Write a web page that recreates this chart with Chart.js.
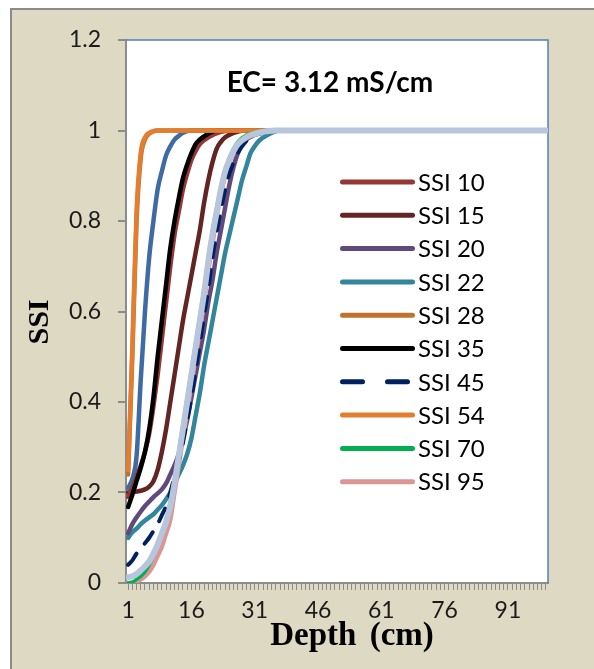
<!DOCTYPE html>
<html><head><meta charset="utf-8">
<script src="https://cdn.jsdelivr.net/npm/chart.js@4.4.0/dist/chart.umd.min.js"></script>
<style>
html,body{margin:0;padding:0;background:#fff;width:594px;height:669px;overflow:hidden}
#frame{position:absolute;left:10px;top:8px;width:600px;height:680px;background:#ddd9c3;border-left:2px solid #8a8a8a;border-top:2px solid #8a8a8a;}
#c{position:absolute;left:0;top:0}
</style></head><body>
<div id="frame"></div>
<canvas id="c" width="594" height="669"></canvas>
<script>
const chartTitle = 'EC= 3.12 mS/cm';
const xAxisTitle = 'Depth (cm)';
const yAxisTitle = 'SSI';
const xTickLabels = [1, 16, 31, 46, 61, 76, 91];
const yTicks = [0, 0.2, 0.4, 0.6, 0.8, 1, 1.2];
const legendLabels = ['SSI 10','SSI 15','SSI 20','SSI 22','SSI 28','SSI 35','SSI 45','SSI 54','SSI 70','SSI 95'];

// [depth, SSI] pairs
const ssi10 = [[1,.19],[2,.21],[3,.235],[4,.26],[5,.29],[6,.33],[7,.39],[8,.46],[9,.54],[10,.62],[11,.70],[12,.77],[13,.82],[14,.87],[15,.905],[16,.935],[17,.955],[18,.97],[20,.985],[23,.997],[26,1],[100,1]];
const ssi15 = [[1,.2],[3,.202],[5,.207],[6,.213],[7,.225],[8,.25],[9,.29],[10,.34],[11,.40],[12,.46],[13,.52],[14,.58],[15,.63],[16,.68],[17,.73],[18,.78],[19,.84],[20,.89],[21,.93],[22,.96],[23,.975],[24,.985],[26,.995],[29,1],[100,1]];
const ssi20 = [[1,.11],[2,.13],[3,.145],[4,.158],[5,.17],[6,.18],[7,.19],[8,.198],[9,.207],[10,.22],[11,.24],[12,.26],[13,.285],[14,.32],[15,.36],[16,.41],[17,.46],[18,.51],[19,.56],[20,.62],[21,.67],[22,.73],[23,.78],[24,.83],[25,.88],[26,.92],[27,.95],[28,.97],[29,.98],[31,.99],[34,1],[100,1]];
const ssi22 = [[1,.10],[2,.112],[3,.12],[4,.13],[5,.138],[6,.145],[7,.152],[8,.162],[9,.172],[10,.185],[11,.2],[12,.22],[13,.24],[14,.26],[15,.285],[16,.32],[17,.37],[18,.42],[19,.48],[20,.53],[21,.58],[22,.63],[23,.68],[24,.73],[25,.77],[26,.81],[27,.85],[28,.89],[29,.92],[30,.95],[31,.965],[32,.977],[34,.99],[37,1],[100,1]];
const ssi28 = [[1,.24],[2,.5],[3,.8],[4,.94],[5,.98],[6,.993],[8,1],[100,1]];
const ssi35 = [[1,.168],[2,.195],[3,.225],[4,.255],[5,.29],[6,.34],[7,.41],[8,.50],[9,.58],[10,.66],[11,.74],[12,.80],[13,.85],[14,.895],[15,.925],[16,.95],[17,.97],[18,.98],[20,.993],[22,1],[100,1]];
const ssi45 = [[1,.04],[2,.05],[3,.065],[4,.075],[5,.088],[6,.10],[7,.115],[8,.13],[9,.15],[10,.17],[11,.2],[12,.235],[13,.27],[14,.31],[15,.36],[16,.41],[17,.47],[18,.53],[19,.59],[20,.65],[21,.72],[22,.775],[23,.825],[24,.87],[25,.905],[26,.93],[27,.95],[28,.965],[30,.985],[33,.995],[36,1],[100,1]];
const ssi54 = [[1,.25],[2,.52],[3,.82],[4,.95],[5,.985],[6,.995],[8,1],[100,1]];
const ssi70 = [[1,0],[2,.002],[3,.008],[4,.015],[5,.025],[6,.04],[7,.06],[8,.085],[9,.11],[10,.14],[11,.18],[12,.23],[13,.29],[14,.35],[15,.41],[16,.47],[17,.53],[18,.59],[19,.65],[20,.72],[21,.78],[22,.83],[23,.875],[24,.91],[25,.94],[26,.96],[27,.975],[29,.99],[32,.997],[36,1],[100,1]];
const ssi95 = [[1,0],[2,0],[3,.003],[4,.008],[5,.015],[6,.025],[7,.04],[8,.06],[9,.08],[10,.11],[11,.14],[12,.2],[13,.26],[14,.32],[15,.38],[16,.44],[17,.50],[18,.56],[19,.62],[20,.69],[21,.75],[22,.81],[23,.86],[24,.90],[25,.93],[26,.95],[27,.97],[29,.985],[32,.995],[36,1],[100,1]];
const extraA = [[1,.21],[2,.23],[3,.28],[4,.45],[5,.60],[6,.72],[7,.80],[8,.87],[9,.91],[10,.945],[11,.965],[12,.98],[13,.988],[14,.995],[16,1],[100,1]];
const extraB = [[1,.013],[2,.015],[3,.02],[4,.028],[5,.037],[6,.048],[7,.065],[8,.085],[9,.11],[10,.135],[11,.17],[12,.22],[13,.28],[14,.34],[15,.40],[16,.46],[17,.52],[18,.58],[19,.64],[20,.71],[21,.77],[22,.82],[23,.87],[24,.91],[25,.935],[26,.955],[27,.97],[29,.985],[32,.995],[36,1],[100,1]];

const pts = a => a.map(p => ({x: p[0], y: p[1]}));
function ds(label, data, color, width, order, dash) {
  return {label, data: pts(data), borderColor: color, borderWidth: width, order,
          borderDash: dash || [], fill: false, pointRadius: 0,
          cubicInterpolationMode: 'monotone', borderCapStyle: 'round', borderJoinStyle: 'round'};
}
const datasets = [
  ds('SSI 10', ssi10, '#953735', 4.5, 8),
  ds('SSI 15', ssi15, '#632523', 4.5, 10),
  ds('SSI 20', ssi20, '#604a7b', 4.5, 11),
  ds('SSI 22', ssi22, '#31859c', 4.5, 12),
  ds('SSI 28', ssi28, '#c0732f', 4.5, 6),
  ds('SSI 35', ssi35, '#000000', 4.5, 7),
  ds('SSI 45', ssi45, '#002060', 4, 2, [14, 13]),
  ds('SSI 54', ssi54, '#e37e31', 4.5, 5),
  ds('SSI 70', ssi70, '#00b050', 3.5, 3),
  ds('SSI 95', ssi95, '#d99694', 4.5, 4),
  ds('', extraA, '#3f6ba5', 4.5, 9),
  ds('', extraB, '#b7c5dd', 6, 1)
];

const plotBg = {
  id: 'plotBg',
  beforeDraw(chart) {
    const {ctx, chartArea: a} = chart;
    ctx.save(); ctx.fillStyle = '#fff';
    ctx.fillRect(a.left, a.top, a.right - a.left, a.bottom - a.top);
    ctx.restore();
  },
  beforeDatasetsDraw(chart) {
    const {ctx, chartArea: a} = chart;
    ctx.save(); ctx.strokeStyle = '#4f81bd'; ctx.lineWidth = 1.5;
    ctx.beginPath(); ctx.moveTo(a.left, a.top); ctx.lineTo(a.right, a.top); ctx.lineTo(a.right, a.bottom); ctx.stroke();
    ctx.restore();
  }
};
const inside = {
  id: 'inside',
  afterDraw(chart) {
    const {ctx, chartArea: a} = chart;
    ctx.save();
    ctx.fillStyle = '#000'; ctx.textBaseline = 'middle'; ctx.textAlign = 'center';
    ctx.font = 'bold 28px Lato';
    ctx.fillText(chartTitle, a.left + 204, a.top + 43);
    // axis titles
    ctx.font = 'bold 33px "Liberation Serif"';
    ctx.wordSpacing = '5px';
    ctx.fillText(xAxisTitle, 352, 636);
    ctx.wordSpacing = '0px';
    ctx.save(); ctx.translate(40, 322); ctx.rotate(-Math.PI / 2);
    ctx.font = 'bold 30px "Liberation Serif"';
    ctx.fillText(yAxisTitle, 0, 0); ctx.restore();
    // legend
    ctx.textAlign = 'left'; ctx.font = '24px Lato';
    chart.data.datasets.forEach(d => {
      const k = legendLabels.indexOf(d.label);
      if (k < 0) return;
      const y = a.top + 142 + k * 33.3;
      ctx.strokeStyle = d.borderColor; ctx.lineWidth = 5; ctx.lineCap = 'round';
      ctx.setLineDash(d.borderDash && d.borderDash.length ? [20, 25] : []);
      ctx.beginPath(); ctx.moveTo(a.left + 216.5, y); ctx.lineTo(a.left + 286.5, y); ctx.stroke();
      ctx.setLineDash([]);
      ctx.fillText(d.label, a.left + 292, y + 1);
    });
    ctx.restore();
  }
};

new Chart(document.getElementById('c'), {
  type: 'line',
  data: {datasets},
  plugins: [plotBg, inside],
  options: {
    responsive: false, animation: false, devicePixelRatio: 1,
    layout: {padding: {left: 0, top: 40, right: 46, bottom: 10}},
    plugins: {legend: {display: false}, tooltip: {enabled: false}},
    scales: {
      x: {
        type: 'linear', min: 0.5, max: 100.5,
        afterBuildTicks: s => { const t = []; for (let i = 1; i <= 100; i++) t.push({value: i}); s.ticks = t; },
        afterFit: s => { s.height = 76; },
        grid: {drawOnChartArea: false, drawTicks: true, tickLength: 7, color: '#8c8c8c', lineWidth: 1},
        border: {display: true, color: '#8c8c8c', width: 2},
        ticks: {autoSkip: false, maxRotation: 0, minRotation: 0, padding: 7, color: '#1a1a1a',
                font: {family: 'Lato', size: 23},
                callback: v => xTickLabels.includes(v) ? String(v) : ''},
        title: {display: false}
      },
      y: {
        type: 'linear', min: 0, max: 1.2,
        afterBuildTicks: s => { s.ticks = yTicks.map(v => ({value: v})); },
        afterFit: s => { s.width = 126; },
        grid: {drawOnChartArea: false, drawTicks: true, tickLength: 8, color: '#8c8c8c', lineWidth: 2},
        border: {display: true, color: '#8c8c8c', width: 2},
        ticks: {padding: 17, color: '#1a1a1a', font: {family: 'Lato', size: 23},
                callback: v => String(+(+v).toFixed(1))},
        title: {display: false}
      }
    }
  }
});
</script>
</body></html>
